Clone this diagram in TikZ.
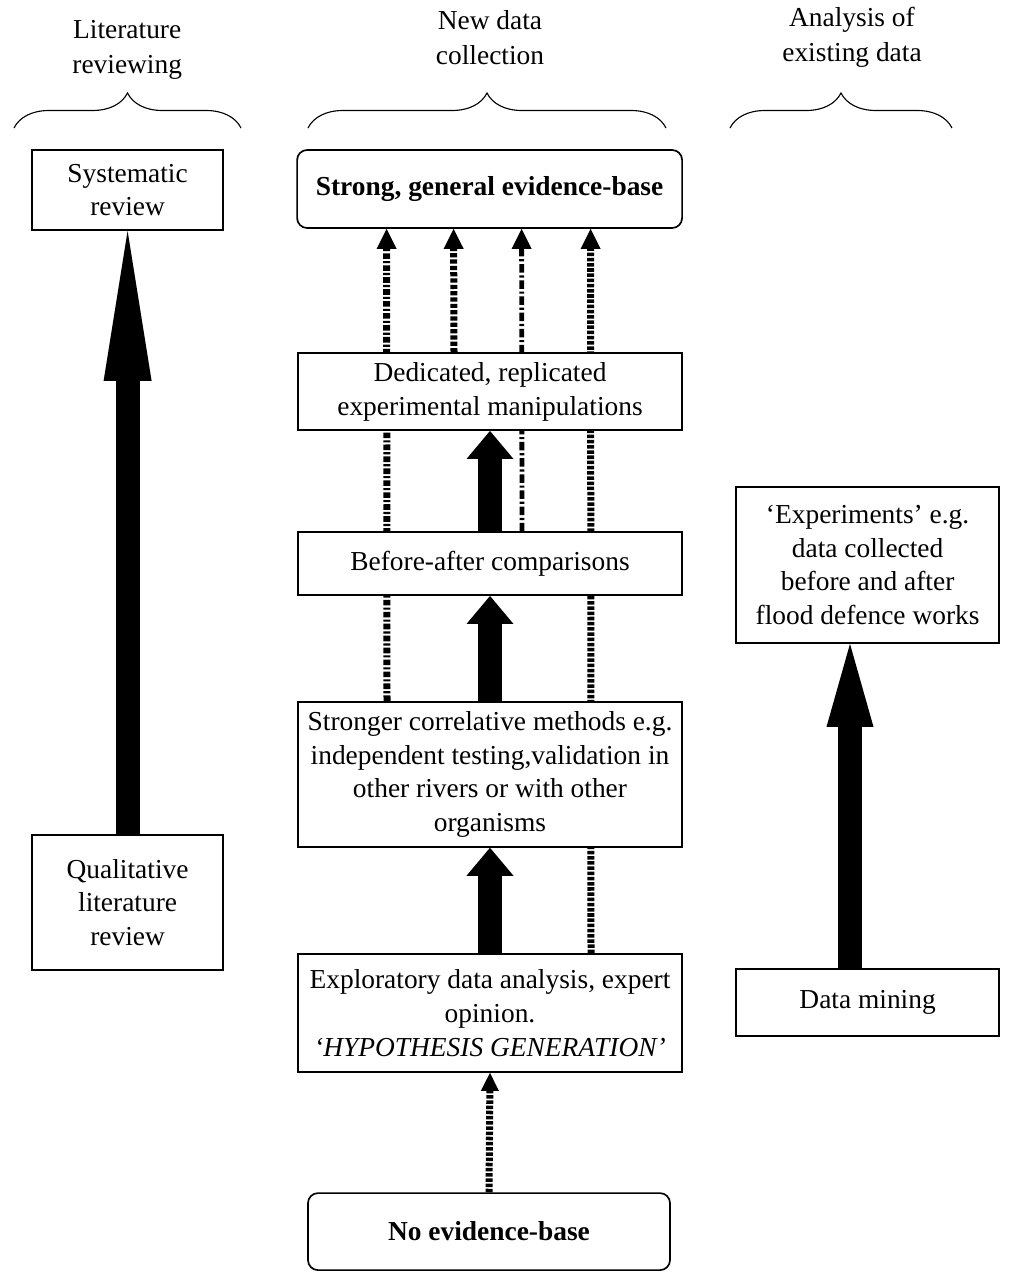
\documentclass[tikz,border=0pt]{standalone}
\usepackage{fontspec}
\setmainfont{Liberation Serif}
\usetikzlibrary{arrows.meta, backgrounds, decorations.pathreplacing}

\begin{document}
\begin{tikzpicture}[
    box/.style={rectangle, draw, line width=1.2pt, fill=white, inner sep=0pt, align=center, font=\fontsize{19.5}{24}\selectfont},
    endbox/.style={box, rounded corners=0.25cm, font=\fontsize{19.5}{24}\selectfont\bfseries},
    header/.style={align=center, font=\fontsize{19.5}{25}\selectfont},
    colbrace/.style={decorate, decoration={brace, amplitude=0.875cm}, line width=0.8pt},
    bigarrow/.style={line width=0.6cm, -{Triangle[width=1.175cm, length=0.7cm, line width=0pt]}},
    link/.style={line width=0.175cm, -{Triangle[width=0.5cm, length=0.5cm, line width=0pt]}},
    patA/.style={dash pattern=on 4pt off 1.5pt on 1.5pt off 1.5pt},
    patB/.style={dash pattern=on 3pt off 1.5pt},
    patC/.style={line width=0.12cm, dash pattern=on 6pt off 2pt on 1.5pt off 2pt},
    patD/.style={dash pattern=on 2.5pt off 1.2pt}
]
    \useasboundingbox (0,0) rectangle (25.9,-31.8);

    % Column headers
    \node[header] (hlit) at (3.18,-1.24) {Literature\\reviewing};
    \node[header] (hnew) at (12.25,-0.94) {New data\\collection};
    \node[header] (hold) at (21.3,-0.94) {Analysis of\\existing data};
    \draw[colbrace] (0.35,-3.2) -- (6.025,-3.2);
    \draw[colbrace] (7.7,-3.2) -- (16.65,-3.2);
    \draw[colbrace] (18.25,-3.2) -- (23.8,-3.2);

    % Literature reviewing
    \node[box, minimum width=4.775cm, minimum height=2cm] (sysrev) at (3.19,-4.75) {Systematic\\review};
    \node[box, minimum width=4.775cm, minimum height=3.375cm] (qualrev) at (3.19,-22.56) {Qualitative\\literature\\review};

    % New data collection
    \node[endbox, minimum width=9.625cm, minimum height=1.95cm] (strong) at (12.24,-4.725) {Strong, general evidence-base};
    \node[box, minimum width=9.6cm, minimum height=1.925cm] (dedic) at (12.25,-9.79) {Dedicated, replicated\\experimental manipulations};
    \node[box, minimum width=9.6cm, minimum height=1.575cm] (befaft) at (12.25,-14.09) {Before-after comparisons};
    \node[box, minimum width=9.6cm, minimum height=3.625cm] (corr) at (12.25,-19.36) {Stronger correlative methods e.g.\\independent testing,validation in\\other rivers or with other\\organisms};
    \node[box, minimum width=9.6cm, minimum height=2.95cm] (explo) at (12.25,-25.325) {Exploratory data analysis, expert\\opinion.\\\textit{`HYPOTHESIS GENERATION'}};
    \node[endbox, minimum width=9.05cm, minimum height=1.925cm] (noev) at (12.225,-30.79) {No evidence-base};

    % Analysis of existing data
    \node[box, minimum width=6.575cm, minimum height=3.9cm] (exper) at (21.69,-14.125) {`Experiments' e.g.\\data collected\\before and after\\flood defence works};
    \node[box, minimum width=6.575cm, minimum height=1.675cm] (mining) at (21.69,-25.06) {Data mining};

    % Dashed links to the top, behind the boxes
    \begin{pgfonlayer}{background}
        \draw[link, patA] ([xshift=-2.575cm]corr.north) -- ([xshift=-2.575cm]strong.south);
        \draw[link, patB] ([xshift=-0.9cm]dedic.north) -- ([xshift=-0.9cm]strong.south);
        \draw[link, patC] ([xshift=0.8cm]befaft.north) -- ([xshift=0.8cm]strong.south);
        \draw[link, patD] ([xshift=2.525cm]explo.north) -- ([xshift=2.525cm]strong.south);
    \end{pgfonlayer}
    \draw[link, patD, -{Triangle[width=0.45cm, length=0.45cm, line width=0pt]}] (noev.north) -- (explo.south);

    % Block arrows
    \draw[bigarrow] (explo.north) -- (corr.south);
    \draw[bigarrow] (corr.north) -- (befaft.south);
    \draw[bigarrow] (befaft.north) -- (dedic.south);
    \draw[bigarrow, -{Triangle[width=1.2cm, length=3.75cm, line width=0pt]}] (qualrev.north) -- (sysrev.south);
    \draw[bigarrow, -{Triangle[width=1.175cm, length=2.075cm, line width=0pt]}] ([xshift=-0.44cm]mining.north) -- ([xshift=-0.44cm]exper.south);
\end{tikzpicture}
\end{document}
